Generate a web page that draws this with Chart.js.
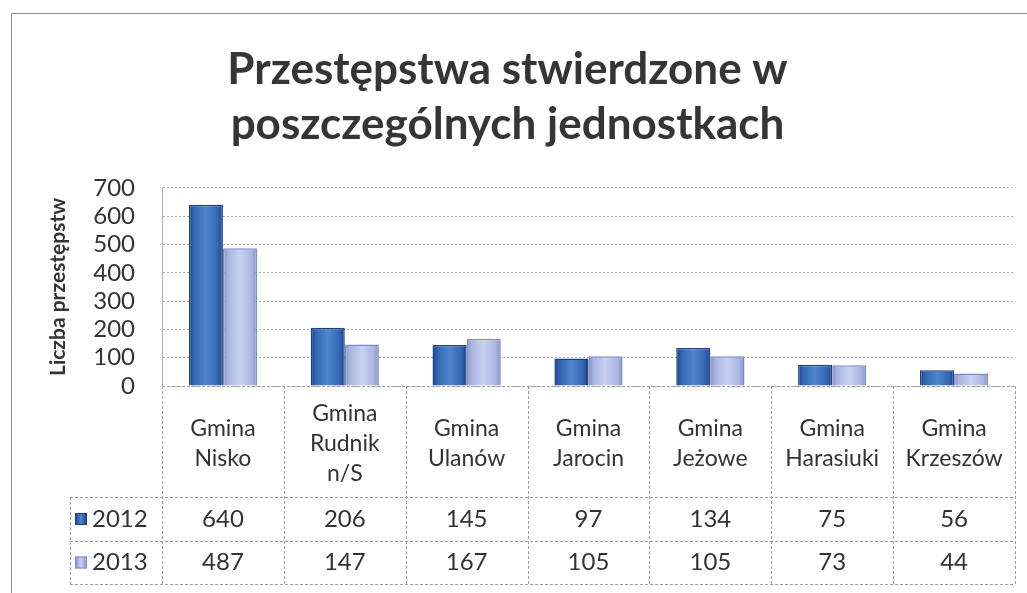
<!DOCTYPE html>
<html>
<head>
<meta charset="utf-8">
<script src="https://cdn.jsdelivr.net/npm/chart.js@4/dist/chart.umd.min.js"></script>
<style>
  html, body { margin: 0; padding: 0; background: #fff; }
  #wrap { width: 1027px; height: 593px; position: relative; }
</style>
</head>
<body>
<div id="wrap"><canvas id="chart"></canvas></div>
<script>
// dane z wykresu
const categories = [
    ['Gmina', 'Nisko'],
    ['Gmina', 'Rudnik', 'n/S'],
    ['Gmina', 'Ulanów'],
    ['Gmina', 'Jarocin'],
    ['Gmina', 'Jeżowe'],
    ['Gmina', 'Harasiuki'],
    ['Gmina', 'Krzeszów']
];
const seriesNames = ['2012', '2013'];
const values2012 = [640, 206, 145, 97, 134, 75, 56];
const values2013 = [487, 147, 167, 105, 105, 73, 44];
const yTicks = [0, 100, 200, 300, 400, 500, 600, 700];

const textColor = '#333';
const lineColor = '#9c9c9c';
const colors = ['#3467b3', '#a9b6e2'];
const borders = ['#1f4282', '#7d8cc4'];
const shades = [
    ['#1e3f80', '#3366b2', '#4f85cc', '#3366b2', '#1e3f80'],
    ['#8290c6', '#a9b5e1', '#c9d1f1', '#a9b5e1', '#8290c6']
];
const catPct = 0.56;

// gradient słupka liczony z osi X
function barFill(context) {
    const chart = context.chart;
    const x = chart.scales.x;
    if (!chart.chartArea || !x || context.type !== 'data') return colors[context.datasetIndex];
    const cw = x.width / categories.length;
    const bw = cw * catPct / 2;
    const left = x.getPixelForValue(context.dataIndex) - bw + context.datasetIndex * bw;
    const g = chart.ctx.createLinearGradient(left, 0, left + bw, 0);
    const s = shades[context.datasetIndex];
    g.addColorStop(0, s[0]);
    g.addColorStop(0.15, s[1]);
    g.addColorStop(0.5, s[2]);
    g.addColorStop(0.85, s[3]);
    g.addColorStop(1, s[4]);
    return g;
}

// tabela danych pod osią X
const dataTablePlugin = {
    id: 'dataTable',
    afterDraw(chart) {
        const c = chart.ctx;
        const area = chart.chartArea;
        const x = chart.scales.x;
        const n = categories.length;
        const w = (area.right - area.left) / n;
        const headerBottom = 497;
        const row1Bottom = 541;
        const row2Bottom = 584;
        const legendLeft = 70;

        c.save();
        // ramka całego wykresu
        c.strokeStyle = '#8a8a8a';
        c.lineWidth = 1;
        c.beginPath();
        c.moveTo(11.5, 593);
        c.lineTo(11.5, 13.5);
        c.lineTo(1027, 13.5);
        c.stroke();

        c.strokeStyle = lineColor;
        c.setLineDash([3, 2]);
        c.beginPath();
        c.moveTo(area.left, area.bottom + 0.5);
        c.lineTo(area.right, area.bottom + 0.5);
        [headerBottom, row1Bottom, row2Bottom].forEach(y => {
            c.moveTo(legendLeft, y + 0.5);
            c.lineTo(area.right, y + 0.5);
        });
        for (let i = 0; i <= n; i++) {
            const bx = Math.round(area.left + i * w) + 0.5;
            c.moveTo(bx, area.bottom);
            c.lineTo(bx, row2Bottom);
        }
        c.moveTo(legendLeft + 0.5, headerBottom);
        c.lineTo(legendLeft + 0.5, row2Bottom);
        c.stroke();
        c.setLineDash([]);

        c.fillStyle = textColor;
        c.textAlign = 'center';
        c.textBaseline = 'middle';
        c.font = '23px Lato';
        const lh = 30;
        categories.forEach((lines, i) => {
            const cx = x.getPixelForValue(i);
            const mid = (area.bottom + headerBottom) / 2 + 2;
            const start = mid - (lines.length - 1) * lh / 2;
            lines.forEach((t, k) => c.fillText(t, cx, start + k * lh));
        });

        c.font = '24px Lato';
        const rows = [values2012, values2013];
        const rowMid = [(headerBottom + row1Bottom) / 2, (row1Bottom + row2Bottom) / 2];
        rows.forEach((vals, r) => {
            vals.forEach((v, i) => {
                c.fillText(String(v), x.getPixelForValue(i), rowMid[r]);
            });
            // legenda
            const g = c.createLinearGradient(75, 0, 87, 0);
            g.addColorStop(0, shades[r][0]);
            g.addColorStop(0.5, shades[r][2]);
            g.addColorStop(1, shades[r][4]);
            c.fillStyle = g;
            c.fillRect(75, rowMid[r] - 6, 12, 12);
            c.strokeStyle = borders[r];
            c.strokeRect(75.5, rowMid[r] - 5.5, 11, 11);
            c.fillStyle = textColor;
            c.textAlign = 'left';
            c.fillText(seriesNames[r], 92, rowMid[r]);
            c.textAlign = 'center';
        });
        c.restore();
    }
};

const ctx = document.getElementById('chart').getContext('2d');
new Chart(ctx, {
    type: 'bar',
    data: {
        labels: categories,
        datasets: [{
            label: seriesNames[0],
            data: values2012,
            backgroundColor: barFill,
            borderColor: borders[0],
            borderWidth: 1.5
        }, {
            label: seriesNames[1],
            data: values2013,
            backgroundColor: barFill,
            borderColor: borders[1],
            borderWidth: 1.5
        }]
    },
    options: {
        responsive: true,
        maintainAspectRatio: false,
        animation: false,
        layout: { padding: { left: 0, right: 12, top: 0, bottom: 207 } },
        datasets: { bar: { categoryPercentage: catPct, barPercentage: 1 } },
        plugins: {
            legend: { display: false },
            tooltip: { enabled: false },
            title: {
                display: true,
                text: ['Przestępstwa stwierdzone w', 'poszczególnych jednostkach'],
                color: '#353535',
                font: { family: 'Lato', size: 44, weight: 'bold', lineHeight: 1.26 },
                padding: { top: 42, bottom: 35 }
            }
        },
        scales: {
            x: {
                ticks: { display: false },
                grid: { display: false, drawTicks: false },
                border: { display: false }
            },
            y: {
                min: 0,
                max: 700,
                afterBuildTicks: s => { s.ticks = yTicks.map(v => ({ value: v })); },
                afterFit: s => { s.width = 162; },
                ticks: {
                    color: textColor,
                    padding: 27,
                    autoSkip: false,
                    font: { family: 'Lato', size: 24, lineHeight: 1 }
                },
                grid: { color: '#b0b0b0', drawTicks: false },
                border: { color: '#b0b0b0', dash: [2, 2] },
                title: {
                    display: true,
                    text: 'Liczba przestępstw',
                    color: textColor,
                    font: { family: 'Lato', size: 21, weight: 'bold' },
                    padding: { top: 46, bottom: 0 }
                }
            }
        }
    },
    plugins: [dataTablePlugin]
});
</script>
</body>
</html>
